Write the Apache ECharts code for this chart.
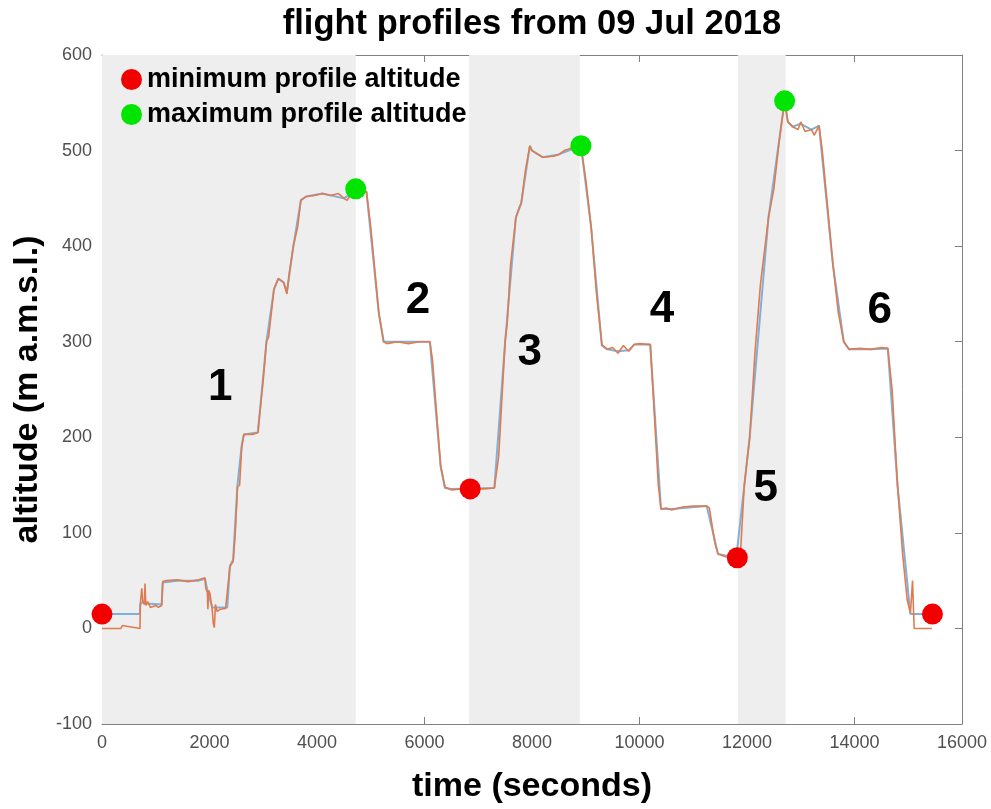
<!DOCTYPE html>
<html><head><meta charset="utf-8">
<script src="https://cdn.jsdelivr.net/npm/echarts@6/dist/echarts.min.js"></script>
<style>html,body{margin:0;padding:0;background:#fff}#c{width:991px;height:809px}</style>
</head><body><div id="c"></div>
<script>
// orange altitude trace [time s, altitude m]
const orangeTrace = [[0,0],[350,0],[380,3],[400,1],[707,0],[712,25],[740,42],[760,28],[790,25],[800,47],[815,24],[850,28],[900,22],[1000,24],[1050,22],[1110,24],[1130,49],[1200,50],[1400,51],[1600,49],[1800,51],[1916,53],[1930,42],[1960,38],[1970,20],[1985,40],[2010,36],[2050,20],[2070,5],[2090,1],[2110,25],[2140,18],[2200,20],[2300,21],[2330,22],[2380,65],[2440,70],[2480,100],[2520,148],[2560,150],[2600,190],[2640,203],[2800,203],[2900,205],[3000,260],[3060,300],[3100,305],[3200,355],[3280,366],[3380,362],[3440,350],[3480,370],[3560,400],[3640,420],[3700,448],[3800,452],[3950,453],[4100,455],[4250,453],[4400,455],[4500,450],[4560,448],[4650,455],[4720,458],[4920,457],[5000,420],[5150,330],[5240,300],[5300,298],[5500,300],[5700,298],[5900,300],[6100,300],[6150,280],[6300,170],[6380,148],[6500,145],[6700,146],[6850,146],[7100,146],[7300,147],[7380,180],[7500,300],[7540,320],[7600,380],[7700,430],[7760,440],[7800,445],[7880,480],[7960,505],[8000,500],[8200,493],[8400,494],[8500,496],[8600,500],[8700,502],[8800,505],[8910,505],[9000,470],[9100,420],[9200,350],[9300,297],[9400,292],[9500,294],[9600,288],[9700,296],[9800,290],[9900,297],[10000,298],[10200,297],[10250,250],[10350,150],[10400,125],[10500,126],[10600,124],[10800,127],[11000,128],[11250,128],[11300,126],[11400,90],[11460,78],[11600,75],[11800,74],[11880,80],[11950,150],[12050,200],[12150,290],[12250,360],[12400,430],[12500,460],[12600,510],[12700,552],[12760,530],[12850,525],[12950,522],[13000,530],[13080,520],[13200,522],[13250,516],[13340,526],[13400,500],[13500,440],[13600,380],[13700,330],[13800,300],[13900,292],[14100,293],[14300,292],[14500,294],[14620,293],[14700,250],[14800,150],[14900,75],[14980,30],[15040,16],[15060,16],[15080,50],[15100,16],[15110,0],[15440,0]];
// blue altitude trace (mostly hidden beneath orange)
const blueTrace = [[0,15],[707,15],[712,25],[760,28],[815,26],[1110,25],[1130,48],[1400,50],[1800,50],[1916,52],[1960,40],[2050,22],[2110,22],[2330,22],[2380,65],[2440,72],[2520,150],[2600,192],[2640,203],[2900,205],[3060,300],[3200,355],[3280,366],[3380,362],[3440,352],[3560,400],[3700,448],[3800,452],[4100,455],[4500,450],[4720,458],[4920,457],[5150,330],[5240,300],[6100,300],[6300,170],[6380,147],[6500,146],[7300,147],[7500,300],[7700,430],[7800,445],[7960,505],[8000,500],[8200,493],[8500,496],[8910,505],[9100,420],[9300,296],[9400,292],[9600,290],[9800,291],[9900,297],[10200,297],[10400,125],[10600,125],[11250,128],[11460,78],[11800,74],[12050,200],[12400,430],[12700,552],[12760,530],[12850,525],[13000,528],[13200,522],[13340,526],[13600,380],[13800,300],[13900,292],[14300,292],[14620,293],[14800,150],[15040,15],[15450,15]];
const minPoints = [[0,15],[6850,146],[11820,74],[15450,15]];
const maxPoints = [[4720,460],[8910,505],[12700,552]];
const bands = [[0,4720],[6830,8890],[11830,12720]];
const profileLabels = ['1','2','3','4','5','6'];
const profileLabelPos = [[2200,252],[5880,343],[7960,288],[10420,333],[12350,146],[14470,332]];
const xTicks = {min:0,max:16000,interval:2000};
const yTicks = {min:-100,max:600,interval:100};

const chart = echarts.init(document.getElementById('c'));
const font = 'Liberation Sans, Arial, Helvetica, sans-serif';
const axisLine = {show:true,onZero:false,lineStyle:{color:'#808080',width:1}};
const tickIn = {show:true,inside:true,length:7,lineStyle:{color:'#808080'}};
const lbl = {color:'#505050',fontSize:18,fontFamily:font,margin:10,formatter:v=>String(v)};
const nameStyle = {fontFamily:font,fontWeight:'bold',fontSize:34,color:'#000'};
chart.setOption({
  animation:false,
  backgroundColor:'#fff',
  title:{text:'flight profiles from 09 Jul 2018',left:527,textAlign:'center',top:2,
    textStyle:{fontFamily:font,fontWeight:'bold',fontSize:34.5,color:'#000'}},
  legend:{data:['minimum profile altitude','maximum profile altitude'],orient:'vertical',left:116,top:61,
    itemWidth:21,itemHeight:21,itemGap:8,icon:'circle',
    textStyle:{fontFamily:font,fontWeight:'bold',fontSize:27,color:'#000'}},
  grid:{left:102,right:29,top:55,bottom:79,containLabel:false},
  xAxis:[
    {type:'value',position:'bottom',min:xTicks.min,max:xTicks.max,interval:xTicks.interval,
     axisLine:axisLine,axisTick:tickIn,splitLine:{show:false},axisLabel:lbl,
     name:'time (seconds)',nameLocation:'middle',nameGap:46,nameTextStyle:nameStyle},
    {type:'value',position:'top',min:xTicks.min,max:xTicks.max,interval:xTicks.interval,
     axisLine:axisLine,axisTick:tickIn,splitLine:{show:false},axisLabel:{show:false}}
  ],
  yAxis:[
    {type:'value',position:'left',min:yTicks.min,max:yTicks.max,interval:yTicks.interval,
     axisLine:axisLine,axisTick:tickIn,splitLine:{show:false},axisLabel:lbl,
     name:'altitude (m a.m.s.l.)',nameLocation:'middle',nameGap:56,nameTextStyle:nameStyle},
    {type:'value',position:'right',min:yTicks.min,max:yTicks.max,interval:yTicks.interval,
     axisLine:axisLine,axisTick:tickIn,splitLine:{show:false},axisLabel:{show:false}}
  ],
  series:[
    {type:'line',name:'blue',data:blueTrace,showSymbol:false,symbol:'none',z:2,
     lineStyle:{color:'#7fb0da',width:2},
     markArea:{silent:true,itemStyle:{color:'#eeeeee'},data:bands.map(b=>[{xAxis:b[0]},{xAxis:b[1]}])}},
    {type:'line',name:'orange',data:orangeTrace,showSymbol:false,symbol:'none',z:3,
     lineStyle:{color:'#e07b4f',width:1.6}},
    {type:'scatter',name:'minimum profile altitude',data:minPoints,symbol:'circle',symbolSize:21,z:5,
     itemStyle:{color:'#f20000',opacity:1}},
    {type:'scatter',name:'maximum profile altitude',data:maxPoints,symbol:'circle',symbolSize:21,z:5,
     itemStyle:{color:'#00e400',opacity:1}},
    {type:'scatter',name:'profile numbers',data:profileLabelPos.map((p,i)=>({value:p,name:profileLabels[i]})),
     symbolSize:0,z:6,silent:true,itemStyle:{color:'rgba(0,0,0,0)',opacity:1},
     label:{show:true,opacity:1,position:[0,0],align:'center',verticalAlign:'middle',formatter:p=>p.name,
       color:'#000',fontFamily:font,fontWeight:'bold',fontSize:44}}
  ]
});
</script></body></html>
